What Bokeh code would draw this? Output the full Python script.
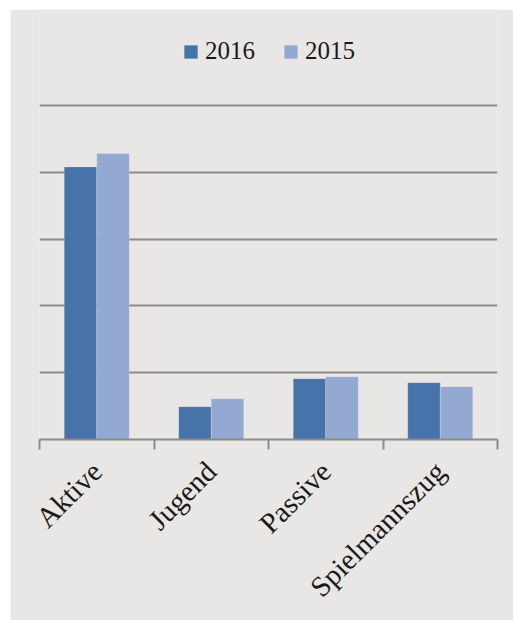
import numpy as np
from bokeh.plotting import figure
from bokeh.models import Range1d, FixedTicker, Legend, LegendItem, ColumnDataSource
from bokeh.embed import file_html
from bokeh.resources import INLINE

categories = ["Aktive", "Jugend", "Passive", "Spielmannszug"]
values_2016 = [408, 49, 91, 85]
values_2015 = [428, 61, 94, 79]
series_names = ["2016", "2015"]
series_colors = ["#4773A8", "#94A9D1"]
grid_ticks = [0, 100, 200, 300, 400, 500]

BG = "#E8E7E5"
GRID = "#8C8C8C"
FONT = "Liberation Serif"

idx = np.arange(len(categories))
centers = idx + 0.5
bar_w = 0.284

p = figure(width=503, height=611, output_backend="svg", toolbar_location=None,
           x_range=Range1d(0, len(categories)), y_range=Range1d(0, 643.7),
           min_border_left=29, min_border_right=16, min_border_top=0, min_border_bottom=181,
           background_fill_color=BG, border_fill_color=BG, outline_line_color=None,
           margin=(9, 0, 0, 10))

src16 = ColumnDataSource(dict(x=centers - bar_w / 2, top=values_2016))
src15 = ColumnDataSource(dict(x=centers + bar_w / 2, top=values_2015))
r16 = p.vbar(x="x", top="top", bottom=0, width=bar_w, source=src16,
             fill_color=series_colors[0], line_color="white", line_alpha=0.2, line_width=1)
r15 = p.vbar(x="x", top="top", bottom=0, width=bar_w, source=src15,
             fill_color=series_colors[1], line_color="white", line_alpha=0.2, line_width=1)

# y axis hidden, gridlines only
p.yaxis.visible = False
p.ygrid.ticker = FixedTicker(ticks=grid_ticks)
p.ygrid.grid_line_color = GRID
p.ygrid.grid_line_width = 2
p.xgrid.grid_line_color = None

# x axis: labels at category centers, tick marks at category boundaries
ax = p.xaxis[0]
ax.ticker = FixedTicker(ticks=list(centers), minor_ticks=list(np.arange(len(categories) + 1)))
ax.major_label_overrides = {float(c): name for c, name in zip(centers, categories)}
ax.major_tick_line_color = None
ax.minor_tick_line_color = GRID
ax.minor_tick_line_width = 2
ax.minor_tick_out = 10
ax.minor_tick_in = 0
ax.axis_line_color = GRID
ax.axis_line_width = 2
ax.major_label_orientation = np.pi / 4
ax.major_label_text_font = FONT
ax.major_label_text_font_size = "29px"
ax.major_label_text_color = "#1A1A1A"
ax.major_label_standoff = 17

legend = Legend(items=[LegendItem(label=series_names[0], renderers=[r16]),
                       LegendItem(label=series_names[1], renderers=[r15])],
                orientation="horizontal", location=(143, 374),
                background_fill_alpha=0, border_line_color=None,
                padding=0, margin=0, spacing=27, label_standoff=6,
                glyph_width=17, glyph_height=17,
                label_text_font=FONT, label_text_font_size="25px",
                label_text_color="#1A1A1A")
p.add_layout(legend, "center")

open("out.html", "w").write(file_html(p, INLINE))
